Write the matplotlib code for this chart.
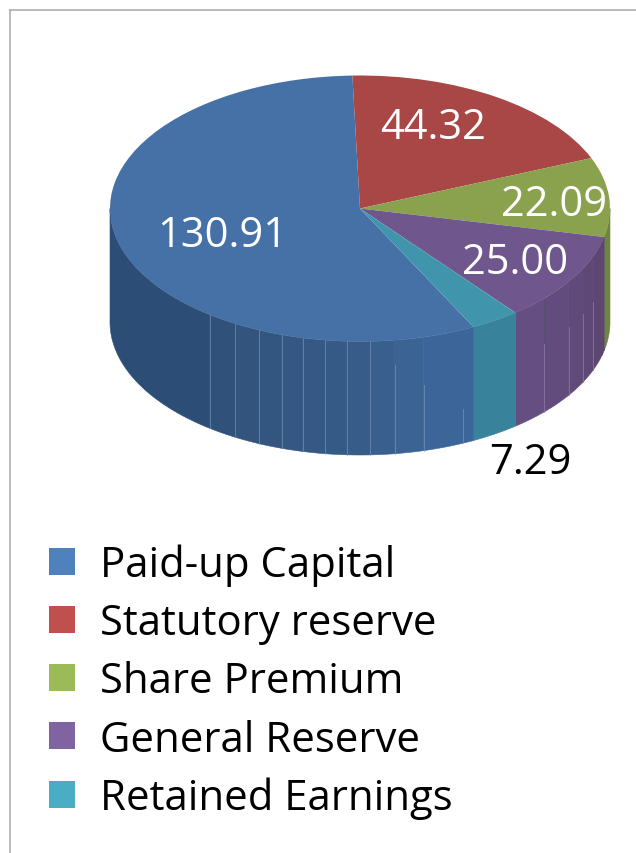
import numpy as np
import matplotlib
matplotlib.use("Agg")
import matplotlib.pyplot as plt
from matplotlib.patches import Patch
from matplotlib.lines import Line2D

plt.rcParams['font.family'] = ['Open Sans', 'DejaVu Sans']

# the chart values
labels = ["Paid-up Capital", "Statutory reserve", "Share Premium", "General Reserve", "Retained Earnings"]
values = [130.91, 44.32, 22.09, 25.00, 7.29]

# colours
top_colors = ["#4671a6", "#a84745", "#8aa24e", "#6f578e", "#4095ad"]
legend_colors = ["#4f81bd", "#c0504d", "#9bbb59", "#8064a2", "#4bacc6"]
teal_side = "#39829b"
green_side = "#6d8540"

# shading of the wall, angle clockwise from the top where a facet starts
blue_facets = [165.2, 172.0, 177.7, 183.0, 188.0, 193.2, 198.2, 203.8, 210.0, 217.0, 270.0]
blue_shades = ["#3c6699", "#3b6495", "#395f8f", "#385c8a", "#365a86", "#355884", "#345783", "#335680", "#32547d", "#30517a", "#2c4d76"]
purple_facets = [104.5, 111.2, 116.9, 123.3, 132.6]
purple_shades = ["#5a4570", "#5c4672", "#5e4876", "#604a7a", "#624c7e", "#654e82"]

W, H = 636, 854
cx, cy = 360, 209.5
rx, ry = 250, 133
depth = 113.5 / ry
blue_start = 153.0  # teal/blue edge, clockwise from the top

# where each slice ends, going back from the blue start
deg = np.array(values) / sum(values) * 360
teal_start = blue_start - deg[4]
purple_start = teal_start - deg[3]

fig = plt.figure(figsize=(W / 100, H / 100), dpi=100)
ax = fig.add_axes([0, 0, 1, 1])

wedges, _ = ax.pie(values, colors=top_colors, startangle=90 - blue_start, counterclock=False,
                   wedgeprops=dict(linewidth=0), radius=1)
ax.set_aspect('auto')
ax.set_xlim(-cx / rx, (W - cx) / rx)
ax.set_ylim((cy - H) / ry, cy / ry)
ax.axis('off')


def wall(t0, t1, color):
    t = np.radians(np.linspace(t0, t1, 60))
    x = np.sin(t)
    y = np.cos(t)
    ax.fill(np.r_[x, x[::-1]], np.r_[y, y[::-1] - depth], color=color, lw=0.4, zorder=0)


wall(90, purple_start, green_side)
edges = [purple_start] + purple_facets + [teal_start]
for i in range(len(purple_shades)):
    wall(edges[i], edges[i + 1], purple_shades[i])
wall(teal_start, blue_start, teal_side)
edges = [blue_start] + blue_facets
for i in range(len(blue_shades)):
    wall(edges[i], edges[i + 1], blue_shades[i])

# thin pale lines between the facets, some only on the lower part
seams = [(155.7, 0.70), (165.2, 0.42), (172.0, 0.22), (177.7, 0), (183.0, 0), (188.0, 0),
         (193.2, 0), (198.2, 0), (203.8, 0), (210.0, 0), (217.0, 0)]
for ang, frac in seams:
    a = np.radians(ang)
    x, y = np.sin(a), np.cos(a)
    ax.plot([x, x], [y - depth * frac, y - depth], color="#7f9abd", lw=0.7, alpha=0.6, zorder=1)
for ang in [132.6, 123.3, 116.9, 111.2]:
    a = np.radians(ang)
    x, y = np.sin(a), np.cos(a)
    ax.plot([x, x], [y, y - depth * 0.4], color="#55506a", lw=0.7, alpha=0.7, zorder=1)
    ax.plot([x, x], [y - depth * 0.4, y - depth], color="#8f7fa8", lw=0.7, alpha=0.7, zorder=1)

# the value labels
label_pos = [(222, 236), (433, 128), (554, 205), (515, 263), (530, 463)]
label_cols = ["white", "white", "white", "white", "black"]
for v, (px, py), c in zip(values, label_pos, label_cols):
    ax.text(px / W, 1 - py / H, f"{v:.2f}", color=c, fontsize=30, ha='center', va='center',
            transform=ax.transAxes, zorder=5)

handles = [Patch(facecolor=c, edgecolor='none') for c in legend_colors]
ax.legend(handles, labels, loc='upper left', bbox_to_anchor=(36 / W, 1 - 532 / H),
          bbox_transform=ax.transAxes, frameon=False, fontsize=30.2,
          handlelength=0.62, handleheight=0.62, handletextpad=0.6, labelspacing=0.385,
          borderpad=0.3, borderaxespad=0)

# the gray frame round the picture
fig.add_artist(Line2D([9.5 / W, 9.5 / W], [0, 1 - 11 / H], color="#a8a8a8", lw=1.1))
fig.add_artist(Line2D([9.5 / W, 1], [1 - 11 / H, 1 - 11 / H], color="#a8a8a8", lw=1.1))

fig.savefig("out.png", dpi=100)
